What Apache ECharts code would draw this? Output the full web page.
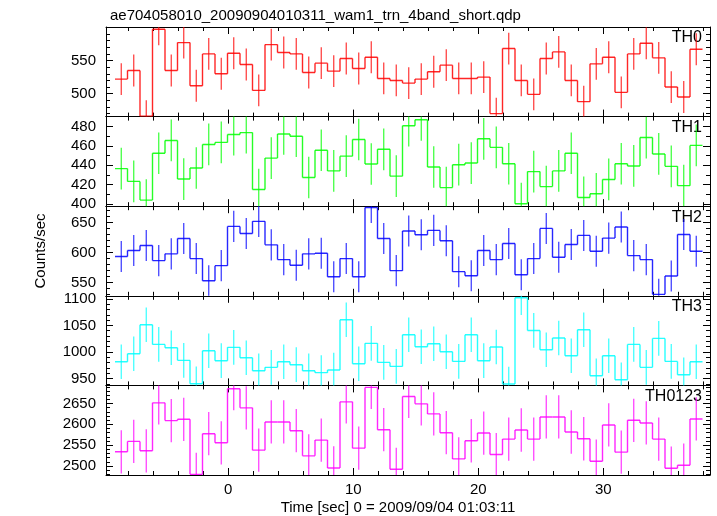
<!DOCTYPE html>
<html><head><meta charset="utf-8">
<script src="https://cdn.jsdelivr.net/npm/echarts@6/dist/echarts.min.js"></script>
<style>html,body{margin:0;padding:0;background:#fff}#c{width:717px;height:516px}</style>
</head><body><div id="c"></div>
<script>
const chartTitle = 'ae704058010_20090904010311_wam1_trn_4band_short.qdp';
const xAxisTitle = 'Time [sec] 0 = 2009/09/04 01:03:11';
const yAxisTitle = 'Counts/sec';
const panelNames = ['TH0', 'TH1', 'TH2', 'TH3', 'TH0123'];
const panelColors = ['#ff0000', '#00ff00', '#0000ff', '#00ffff', '#ff00ff'];

const timeBins = [-8.56,-7.56,-6.56,-5.56,-4.56,-3.56,-2.56,-1.56,-0.56,0.44,1.44,2.44,3.44,4.44,5.44,6.44,7.44,8.44,9.44,10.44,11.44,12.44,13.44,14.44,15.44,16.44,17.44,18.44,19.44,20.44,21.44,22.44,23.44,24.44,25.44,26.44,27.44,28.44,29.44,30.44,31.44,32.44,33.44,34.44,35.44,36.44,37.44];

const th0 = [522,535,466,597,535,577,512,560,530,561,544,505,574,562,560,532,546,534,553,538,555,523,520,516,522,533,543,523,523,525,470,568,520,499,553,563,520,488,545,555,502,560,576,554,510,495,567];
const th1 = [436.5,423.3,404,452.3,465.5,425.7,437.1,461.4,463.5,471.6,473.6,414.9,447.3,472.2,469.9,427.3,455.4,434.1,449.3,466.5,441.2,456.4,428.7,480.7,486.8,438.1,416.9,440.5,442.2,467.2,458.4,441.5,400.3,433.4,417.9,434.1,452.3,406.7,410.5,425.3,441.5,439.2,468.5,451.6,438.8,418.9,460.4];
const th2 = [593.3,603.4,611.8,586.5,597.8,623.6,589.9,552.8,578.1,643.8,632,652.2,612.9,588.2,578.7,597.8,598.9,559.6,589.9,559.6,675.3,623.6,569.7,636,629.8,637.1,619.7,568,561.2,603.4,588.2,615.2,562.9,589.9,640.4,592.1,613.5,628.7,602.2,624.2,642.7,594.9,588.2,530,560.7,630.3,602.2];
const th3 = [981.9,996.9,1051.3,1014.4,1008.1,984.4,940.6,1002.5,983.8,1008.8,989.4,965,971.3,981.9,976.3,965,961.3,966.3,1060.6,978.1,1016.3,980.6,973.1,1032.5,1010,1015.6,1000.6,982.5,1032.5,983.8,1009.4,940,1102,1040.6,1004.4,1026.3,993.1,1041.9,955.6,993.1,948.1,1014.4,971.3,1025.6,982.5,957.5,981.9];
const th0123 = [2533.9,2558.9,2536.3,2651.6,2608.9,2612.1,2479.8,2577.4,2555.6,2685.5,2639.5,2537.9,2605.6,2605.6,2584.7,2524.2,2562.1,2495.2,2654,2542.7,2688.7,2587.1,2491.9,2666.9,2649.2,2625,2579.8,2516.9,2560.5,2579,2527.4,2564.5,2586.3,2564.5,2617.7,2617.7,2581.5,2565.3,2511.3,2598.4,2533.1,2609.7,2603.2,2564.5,2494.4,2501.6,2612.9];
const panelErrors = [24, 21.5, 26, 32.5, 52];

const yMins = [465.5, 397.7, 527.6, 937.4, 2478.2];
const yMaxs = [600.5, 490.1, 677.6, 1105.6, 2693.5];
const yMajorTicks = [[500,550,600],[400,420,440,460,480],[550,600,650],[950,1000,1050,1100],[2500,2550,2600,2650]];
const yMajorLabels = [[500,550],[400,420,440,460,480],[550,600,650],[950,1000,1050,1100],[2500,2550,2600,2650]];
const yMinorStep = [10, 10, 10, 10, 10];
const xMin = -9.78, xMax = 38.54;
const xMajorTicks = [0, 10, 20, 30];
const xMinorStep = 2;
const binWidth = 1;

const panelValues = [th0, th1, th2, th3, th0123];

const GRID_LEFT = 106, GRID_RIGHT = 7, GRID_TOP = 27, PANEL_H = 89.6;
const MAJOR_LEN = 7, MINOR_LEN = 4;
const FONT = '"Liberation Sans", Arial, Helvetica, sans-serif';

function steps(min, max, step) {
  const out = [];
  for (let v = Math.ceil(min / step) * step; v <= max + 1e-9; v += step) out.push(+v.toFixed(6));
  return out;
}
const plain = v => String(Math.round(v));

const grids = [], xAxes = [], yAxes = [], series = [], graphics = [];
const xMinor = steps(xMin, xMax, xMinorStep);

panelNames.forEach((name, p) => {
  const top = GRID_TOP + p * PANEL_H;
  grids.push({ left: GRID_LEFT, right: GRID_RIGHT, top: top, height: PANEL_H, containLabel: false });
  const yMinor = steps(yMins[p], yMaxs[p], yMinorStep[p]);
  const baseX = { type: 'value', gridIndex: p, min: xMin, max: xMax, splitLine: { show: false } };
  const baseY = { type: 'value', gridIndex: p, min: yMins[p], max: yMaxs[p], splitLine: { show: false } };
  const tickStyle = { color: '#000', width: 1 };
  const xMainIdx = xAxes.length;
  xAxes.push(Object.assign({}, baseX, {
    position: 'bottom',
    axisLine: { show: true, onZero: false, lineStyle: { color: '#000', width: 1 } },
    axisTick: { show: true, inside: true, length: MAJOR_LEN, customValues: xMajorTicks, lineStyle: tickStyle },
    axisLabel: { show: p === 4, customValues: xMajorTicks, formatter: plain, margin: 7, color: '#000', fontSize: 15, fontFamily: FONT }
  }));
  xAxes.push(Object.assign({}, baseX, {
    position: 'bottom',
    axisLine: { show: false, onZero: false },
    axisTick: { show: true, inside: true, length: MINOR_LEN, customValues: xMinor, lineStyle: tickStyle },
    axisLabel: { show: false }
  }));
  xAxes.push(Object.assign({}, baseX, {
    position: 'top',
    axisLine: { show: true, onZero: false, lineStyle: { color: '#000', width: 1 } },
    axisTick: { show: true, inside: true, length: MAJOR_LEN, customValues: xMajorTicks, lineStyle: tickStyle },
    axisLabel: { show: false }
  }));
  xAxes.push(Object.assign({}, baseX, {
    position: 'top',
    axisLine: { show: false, onZero: false },
    axisTick: { show: true, inside: true, length: MINOR_LEN, customValues: xMinor, lineStyle: tickStyle },
    axisLabel: { show: false }
  }));
  const yMainIdx = yAxes.length;
  yAxes.push(Object.assign({}, baseY, {
    position: 'left',
    axisLine: { show: true, onZero: false, lineStyle: { color: '#000', width: 1 } },
    axisTick: { show: true, inside: true, length: MAJOR_LEN, customValues: yMajorTicks[p], lineStyle: tickStyle },
    axisLabel: { show: true, customValues: yMajorLabels[p], formatter: plain, margin: 10, color: '#000', fontSize: 15, fontFamily: FONT }
  }));
  yAxes.push(Object.assign({}, baseY, {
    position: 'left',
    axisLine: { show: false, onZero: false },
    axisTick: { show: true, inside: true, length: MINOR_LEN, customValues: yMinor, lineStyle: tickStyle },
    axisLabel: { show: false }
  }));
  yAxes.push(Object.assign({}, baseY, {
    position: 'right',
    axisLine: { show: true, onZero: false, lineStyle: { color: '#000', width: 1 } },
    axisTick: { show: true, inside: true, length: MAJOR_LEN, customValues: yMajorTicks[p], lineStyle: tickStyle },
    axisLabel: { show: false }
  }));
  yAxes.push(Object.assign({}, baseY, {
    position: 'right',
    axisLine: { show: false, onZero: false },
    axisTick: { show: true, inside: true, length: MINOR_LEN, customValues: yMinor, lineStyle: tickStyle },
    axisLabel: { show: false }
  }));

  const vals = panelValues[p];
  const err = panelErrors[p];
  const data = timeBins.map((t, i) => [t, vals[i], i + 1 < vals.length ? vals[i + 1] : vals[i], err]);
  const color = panelColors[p];
  series.push({
    type: 'custom',
    xAxisIndex: xMainIdx,
    yAxisIndex: yMainIdx,
    clip: true,
    silent: true,
    animation: false,
    data: data,
    renderItem: function (params, api) {
      const t = api.value(0), v = api.value(1), vn = api.value(2), e = api.value(3);
      const a = api.coord([t - binWidth / 2, v]);
      const b = api.coord([t + binWidth / 2, v]);
      const c = api.coord([t + binWidth / 2, vn]);
      const eh = api.coord([t, v + e]);
      const el = api.coord([t, v - e]);
      const lineStyle = { stroke: color, lineWidth: 1.4, opacity: 0.85 };
      const errStyle = { stroke: color, lineWidth: 1.2, opacity: 0.8 };
      return {
        type: 'group',
        children: [
          { type: 'line', shape: { x1: el[0], y1: el[1], x2: eh[0], y2: eh[1] }, style: errStyle },
          { type: 'line', shape: { x1: a[0], y1: a[1], x2: b[0], y2: b[1] }, style: lineStyle },
          { type: 'line', shape: { x1: b[0], y1: b[1], x2: c[0], y2: c[1] }, style: lineStyle }
        ]
      };
    }
  });

  graphics.push({
    type: 'text', x: 717 - GRID_RIGHT - 8, y: top + 11,
    style: { text: name, fill: '#000', font: '16px ' + FONT, textAlign: 'right', textVerticalAlign: 'middle' }
  });
});

graphics.push({
  type: 'text', x: 398, y: 508,
  style: { text: xAxisTitle, fill: '#000', font: '15px ' + FONT, textAlign: 'center', textVerticalAlign: 'middle' }
});
graphics.push({
  type: 'text', x: 41, y: 251, rotation: Math.PI / 2,
  style: { text: yAxisTitle, fill: '#000', font: '15px ' + FONT, textAlign: 'center', textVerticalAlign: 'middle' }
});

const chart = echarts.init(document.getElementById('c'), null, { renderer: 'canvas' });
chart.setOption({
  backgroundColor: '#fff',
  animation: false,
  title: { text: chartTitle, left: GRID_LEFT - 1, top: 3, textStyle: { color: '#000', fontSize: 15, fontWeight: 'normal', fontFamily: FONT } },
  grid: grids,
  xAxis: xAxes,
  yAxis: yAxes,
  series: series,
  graphic: graphics
});
</script>
</body></html>
